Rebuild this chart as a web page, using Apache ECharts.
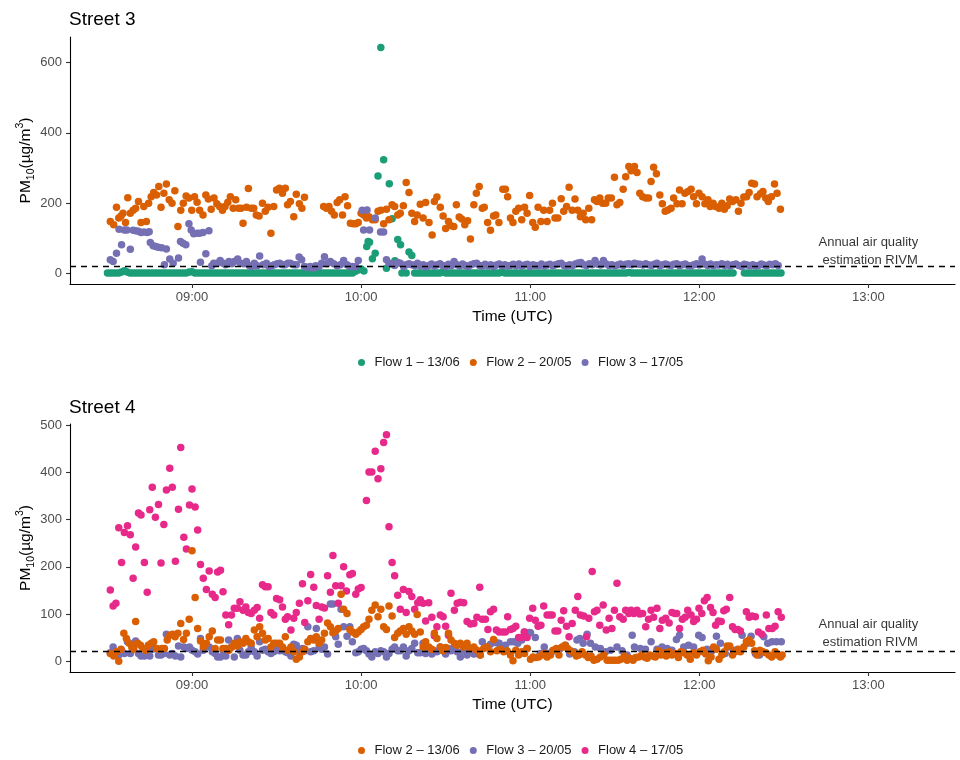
<!DOCTYPE html>
<html><head><meta charset="utf-8">
<script src="https://cdn.jsdelivr.net/npm/echarts@6/dist/echarts.min.js"></script>
<style>html,body{margin:0;padding:0;background:#fff}#c{width:960px;height:760px}</style>
</head><body><div id="c"></div>
<script>
// ---------- DATA (x = minutes after 08:30 UTC, y = PM10 in µg/m3) ----------
const xTickLabels = ['09:00','10:00','11:00','12:00','13:00'];
const xTickMinutes = [540,600,660,720,780]; // minutes since midnight
const yTicksTop = [0,200,400,600];
const yTicksBottom = [0,100,200,300,400,500];
const rivmAnnual = 21;
const annotationText = 'Annual air quality\n estimation RIVM';

// Street 3 — Flow 1 (13/06): per-minute values from minute 0
const s3f1A = [0,0,0,0,0,3,7,3,0,0, 0,0,0,0,0,0,0,0,0,0, 0,0,0,0,0,0,0,0,0,3, 4,0,0,0,0,0,0,0,0,0,
  0,0,0,0,0,0,0,0,0,0, 0,0,0,0,0,0,0,0,0,0, 0,0,0,0,0,0,0,0,0,0, 0,0,0,0,0,0,0,0,0,0,
  0,0,0,0,0,0,0,0,5,9, 12,6];
const s3f1Spike = [[92,76],[92.5,90],[93,88],[94,41],[95,57],[96,277],[97,643],[98,323],[99,14],[100,255],[101,155],
  [102,35],[103,96],[104,81],[104.5,0],[106,0],[107,60],[108,50]];
// per-minute from minute 109
const s3f1B = [0,0,0,0,0,0,0,0,0,0, 4,0,0,0,0,0,0,0,0,0, 0,0,0,0,0,0,0,0,0,0, 0,3,0,0,0,0,0,0,0,0,
  0,0,0,0,0,0,0,0,0,0, 0,0,0,0,0,0,0,0,0,0, 0,0,0,0,0,0,0,0,0,0, 0,0,0,0,0,0,2,0,0,0,
  0,0,0,0,0,0,0,0,0,0, 0,0,0,0,0,0,0,0,0,0, 0,0,0,0,0,0,0,0,0,0, 0,0,0,0];
// per-minute from minute 226
const s3f1C = [0,0,0,0,0,0,0,0,0,0,0,0,0,0];

// Street 3 — Flow 2 (20/05)
const s3f2 = [[1,147],[2.2,138],[3.2,188],[4,157],[4.8,163],[5.5,171],[6.4,144],[7.2,215],[8.1,171],[9.1,179],
  [10,185],[11,204],[11.9,144],[12.9,190],[13.8,147],[14.6,199],[15.5,218],[16.4,230],[17.4,223],[18.2,247],
  [19,188],[20,228],[20.9,254],[21.9,209],[22.9,199],[23.9,235],[25,133],[26,179],[26.9,199],[27.9,220],
  [28.9,214],[29.9,179],[30.9,218],[31.8,202],[32.7,179],[33.9,166],[34.9,223],[35.8,211],[36.8,182],[37.8,214],
  [38.8,198],[39.8,190],[40.8,179],[41.7,190],[42.7,202],[43.6,218],[44.6,185],[45.5,209],[46.5,185],[47.4,185],
  [48.1,142],[49.3,188],[50,241],[51,185],[51.9,185],[52.8,166],[53.8,163],[55,199],[56,176],[57,188],
  [58,114],[59,190],[60,237],[61,242],[62.1,228],[63.1,242],[63.9,195],[64.9,204],[66.1,161],[67,225],
  [68.1,198],[69,185],[69.9,216],[76.7,190],[77.7,185],[78.6,190],[79.5,176],[80.5,166],[81.5,201],[82.4,209],
  [83.4,166],[84.3,218],[85.2,192],[86.2,142],[87.2,141],[88.1,141],[89,144],[90,171],[90.9,166],[91.9,157],
  [92.8,161],[94,152],[95,152],[96,176],[97,179],[98,141],[99,182],[99.9,152],[101,195],[101.9,190],
  [103,166],[103.9,171],[105,192],[106,258],[107,230],[108,171],[109,147],[109.9,166],[111,196],[112,157],
  [112.9,201],[114.1,144],[115.2,109],[116,204],[116.9,217],[118.1,188],[119.1,163],[120,127],[121,147],[121.9,135],
  [122.9,133],[123.8,195],[124.8,160],[125.7,154],[126.8,138],[127.8,149],[128.8,97],[130,195],[130.9,228],[131.9,247],
  [133,185],[133.7,188],[134.9,144],[135.9,122],[137,163],[137.8,166],[138.9,144],[140.3,239],[141.2,239],[142,218],
  [143,157],[143.9,144],[144.9,176],[145.9,185],[147,152],[148,188],[148.9,171],[149.8,221],[150.9,144],[151.8,131],
  [152.8,188],[153.8,147],[154.8,179],[156,147],[156.9,179],[157.9,199],[158.8,157],[159.8,157],[161,212],[161.9,176],
  [162.9,190],[163.8,245],[164.9,179],[165.9,211],[166.9,179],[167.8,161],[168.8,171],[169.7,152],[170.8,185],[171.8,152],
  [172.8,209],[173.7,204],[174.7,214],[175.7,199],[176.8,199],[177.7,214],[178.8,214],[179.9,273],[180.8,195],[181.8,201],
  [183,239],[183.9,275],[185,304],[185.8,292],[187,304],[187.9,287],[188.9,228],[189.9,218],[191,214],[192,214],
  [192.9,261],[193.8,302],[194.8,283],[196,223],[196.9,198],[197.9,176],[198.9,180],[200,185],[200.9,214],[202.1,198],
  [203,237],[203.9,198],[204.9,228],[206,233],[207.1,239],[208,218],[209,198],[209.9,228],[211,218],[212,198],
  [213.1,209],[213.9,190],[214.9,199],[215.8,190],[217,185],[218,199],[218.9,182],[219.9,192],[220.8,211],[221.8,204],
  [223,209],[223.9,176],[224.8,199],[225.8,217],[226.8,218],[227.7,230],[228.6,256],[229.6,254],[230.5,218],[231.7,226],
  [232.6,233],[233.6,214],[234.5,204],[235.6,218],[236.7,254],[237.6,228],[238.8,182]];

// Street 3 — Flow 3 (17/05)
const s3f3A = [[1,38],[2,33],[3.2,57],[4.1,125],[5,81],[6,123],[6.9,123],[8.1,68],[9.1,122],[10,121],
  [11,119],[11.9,116],[12.9,117],[14.1,116],[14.8,118],[15.2,87],[16.2,78],[17.1,76],[18,74],[19.2,72],
  [20.2,24],[20.9,69],[22.1,40],[23.3,28],[25.2,43],[25.9,90],[26.8,85],[27.8,81],[28.9,141],[29.7,123],
  [30.6,112],[31.8,114],[32.7,114],[33,31],[33.9,116],[34.9,55],[36,121],[37,21],[37.7,28],[38.9,28],
  [40,36],[41,28],[41.9,24],[43.1,33],[44.1,27],[45,33],[46.2,40],[47.2,28],[48.3,27],[49.3,33],
  [50.3,22],[51.2,19],[52.1,28],[53.1,21],[54,49],[55.2,24],[56.4,28],[57.3,19],[58.3,21],[59.2,24],
  [60.2,27],[61.1,28],[62.1,24],[63,24],[64,28],[64.9,28],[66.1,24],[67,24],[68,46],[68.9,38],
  [69.9,19],[70.8,17],[72,19],[73,14],[73.9,21],[75.1,19],[76,28],[77,47],[77.9,27],[79.1,33],
  [80.3,27],[81.5,21],[82.6,24],[83.8,36],[85,24],[86,19],[86.9,19],[88.1,19],[89,36],[90.4,179],
  [90.9,123],[92.1,180],[93,123],[95,157],[96.9,117],[98,117],[99,38],[99.9,28],[101,27],[101.9,22],
  [103,30],[103.9,28],[105.1,19],[106,24],[107,27],[108,24]];
// per-minute from minute 109
const s3f3B = [22,28,20,24,18,22,26,20,24,27,22,19, 25,21,33,24,20,26,22,19,24,27,28,22,
  20,25,21,24,19,23,26,21,24,20,22,25, 21,26,20,23,25,19,24,22,21,26,20,23,
  25,21,24,27,28,22,20,24,21,26,29,30, 24,22,27,24,36,25,23,36,26,22,24,21,
  23,26,22,25,27,24,28,26,25,23,27,24, 22,25,28,21,24,26,23,22,25,27,21,24,
  26,22,20,24,27,23,40,25,22,26,21,24, 23,27,22,25,20,24,26,22,19,25,23,21,
  24,20,22,26,23,21,25,24,27,22];

// Street 4 — Flow 2 (13/06)
const s4f2 = [[1,16],[2.2,11],[3.2,20],[4,0],[4.8,25],[5.8,59],[6.7,48],[7.7,38],[8.6,30],[9.3,25],
  [10,84],[10.7,38],[11.7,34],[12.6,27],[13.6,23],[14.5,34],[15.5,38],[16.4,41],[17.4,27],[18.3,25],
  [19.3,27],[20.2,27],[21.2,45],[22.1,55],[23.1,57],[24,52],[25,59],[26,80],[27,46],[28,59],
  [29,89],[30,234],[31.1,135],[32,69],[33,43],[34,30],[35.1,38],[36.1,52],[37.2,64],[38.2,27],
  [39.1,45],[40.1,45],[41,27],[42,27],[43.1,23],[44.1,30],[45,38],[46.1,32],[47,41],[48.1,38],
  [49.1,48],[50,41],[51,38],[52.1,66],[53.1,52],[54,73],[55,59],[56,45],[57,48],[58,30],
  [59,38],[60,38],[61.1,38],[62.1,30],[63.1,52],[63.9,23],[65.1,30],[66.1,20],[67,4],[68.1,9],
  [69.2,20],[70,25],[71.1,41],[72.1,48],[73.2,45],[74.1,52],[75.1,38],[76,45],[77,59],[78.1,81],
  [79.1,73],[80,60],[81,64],[81.9,69],[82.9,142],[83.8,110],[85,101],[86,67],[86.9,62],[88.1,57],
  [89,62],[90,67],[90.9,73],[91.9,76],[92.8,89],[93.8,108],[95,119],[96,94],[97,110],[98,73],
  [99,67],[99.9,117],[101,96],[101.9,50],[103,59],[103.9,64],[105,69],[106,57],[107,73],[108,64],
  [109,57],[109.9,99],[111,62],[112,30],[112.9,41],[114,30],[115.1,25],[116,59],[116.9,48],[118.1,30],
  [119.1,22],[120,29],[121,59],[121.9,45],[123.1,38],[124.1,34],[125.2,38],[126.4,30],[127.6,38],[128.8,27],
  [130,30],[131.1,23],[132.3,13],[133.5,27],[134.7,30],[135.9,20],[137,46],[138.2,22],[139.4,25],[140.6,20],
  [141.8,22],[143,13],[143.9,1],[144.9,23],[145.9,13],[147,20],[148,16],[148.9,27],[150.1,4],[151,9],
  [152,8],[153,9],[154.1,13],[155,16],[156,9],[157.2,13],[158.1,23],[159.3,27],[160.2,13],[161.3,30],
  [162.4,34],[163.3,27],[164.3,22],[165.4,18],[166.4,11],[167.3,13],[168.4,20],[169.6,13],[170.6,8],[171.6,11],
  [172.6,2],[173.7,4],[174.9,9],[176.1,13],[177.3,2],[178.2,2],[179.2,2],[180.2,2],[181.3,2],[182.2,4],
  [183.4,11],[184.4,2],[185.3,6],[186.5,2],[187.4,8],[188.5,9],[189.6,13],[190.5,9],[191.5,6],[192.4,13],
  [193.4,11],[194.4,9],[195.5,22],[196.4,13],[197.4,18],[198.3,11],[199.3,20],[200.3,13],[201.4,16],[202.6,8],
  [203.5,20],[204.5,18],[205.7,13],[206.8,4],[208,18],[209,13],[210.2,20],[211.3,23],[212.3,15],[213.2,1],
  [214.2,9],[215.1,30],[216.1,25],[217,4],[218,13],[218.9,20],[219.9,32],[220.8,32],[221.8,13],[222.7,20],
  [223.7,25],[224.6,20],[225.8,30],[226.7,41],[227.7,45],[228.6,38],[229.6,22],[230.5,13],[231.5,23],[232.6,20],
  [233.6,18],[234.7,13],[235.7,9],[236.9,20],[237.8,13],[238.8,9],[239.4,13]];

// Street 4 — Flow 3 (20/05)
const s4f3 = [[1,18],[2,30],[3,13],[4,13],[5,23],[6,16],[7.1,41],[8.1,16],[9.1,30],[10,43],
  [11,16],[11.9,11],[13.1,11],[14.1,27],[15,11],[15.9,25],[17,27],[18.1,13],[19,13],[20,16],
  [20.9,57],[22.1,13],[23,16],[24.1,11],[25.2,32],[26,9],[27.1,30],[28,27],[29.1,30],[30,23],
  [31.1,20],[32,15],[33,48],[34,23],[35.1,34],[36.1,30],[37.2,20],[38.2,16],[39.1,9],[40.1,9],
  [41,22],[42,11],[43,45],[44,30],[45,9],[46.1,48],[47,23],[48.1,13],[49.1,13],[50,20],
  [51,30],[52.1,20],[53.1,11],[54,41],[55,23],[56,25],[57,20],[58,16],[59,20],[60,27],
  [61.1,22],[62.1,27],[63.1,20],[63.9,18],[65.1,11],[66.1,36],[67,34],[68.1,22],[69.2,27],[70,22],
  [71.1,73],[72.1,20],[73.2,22],[74.1,69],[75.1,30],[76,25],[77,30],[78.1,15],[79.1,121],[80,121],
  [81,52],[81.9,36],[82.9,110],[83.8,73],[85,53],[86,73],[86.9,41],[88.1,18],[89,20],[90,25],
  [90.9,27],[91.9,22],[92.8,15],[93.8,9],[95,20],[96,16],[97,22],[98,20],[99,9],[99.9,16],
  [101,25],[101.9,30],[103,22],[103.9,22],[105,30],[106,11],[107,22],[108,27],[109,38],[110.1,18],
  [111,18],[112,38],[112.9,16],[114,22],[115.1,15],[116,22],[116.9,20],[118.1,30],[119.1,22],[120,15],
  [121,27],[121.9,22],[123.1,30],[124.1,20],[125.2,9],[126.4,22],[127.6,13],[128.8,23],[130,15],[131.1,16],
  [132.3,13],[133,41],[134,30],[135.9,36],[138,39],[139,38],[139.4,30],[141.2,34],[143,41],[144.2,41],
  [145.6,38],[147,45],[148,62],[148.9,27],[149.7,61],[150.1,60],[151.8,50],[153.6,16],[155,30],[156,16],
  [157.7,20],[160.7,27],[162.5,34],[164,15],[165.7,20],[166.6,45],[167.6,48],[168.8,38],[170.2,57],[171.4,38],
  [173.1,30],[174.9,27],[176.7,20],[178.5,23],[180.8,30],[182.6,22],[184.4,13],[186.2,55],[187,30],[189.1,27],
  [190.9,25],[192.9,41],[195,25],[196.8,30],[198.6,27],[200.3,23],[201.9,46],[203,55],[204.5,30],[206.2,34],
  [208,30],[209.8,55],[211,50],[212.8,25],[214.5,22],[216.1,53],[217.5,38],[219.2,16],[220.4,30],[222.2,23],
  [224,22],[225.2,55],[227,38],[228.4,53],[229.9,16],[231.4,13],[232.9,52],[234.3,38],[235.8,41],[237.4,41],[239.1,41]];

// Street 4 — Flow 4 (17/05)
const s4f4 = [[1,151],[2,117],[3,123],[4,283],[5,209],[6,273],[7.1,287],[8.1,268],[9.1,176],[10,242],
  [11,314],[11.9,310],[13.1,209],[14.1,146],[15,321],[15.9,369],[17,305],[18.1,332],[19,208],[20,290],
  [20.9,363],[22.1,409],[23,369],[24.1,212],[25.2,322],[26,453],[27.1,263],[28,238],[29.1,331],[30,365],
  [31.1,327],[32,278],[33,205],[34,176],[35.1,152],[36.1,191],[37.2,142],[38.2,135],[39.1,189],[40.1,193],
  [41,147],[42,98],[43,77],[44,98],[45,112],[46.1,112],[47,126],[48.1,108],[49.1,115],[50,103],
  [51,101],[52.1,108],[53.1,114],[54,91],[55,162],[56,158],[57,158],[58,103],[59,98],[60,133],
  [61.1,130],[62.1,115],[63.1,89],[63.9,94],[65.1,66],[66.1,91],[67,103],[68.1,123],[69.2,164],[70,82],
  [71.1,128],[72.1,184],[73.2,157],[74.1,118],[75.1,89],[76,115],[77,113],[78.1,181],[79.1,146],[80,224],
  [81,160],[81.9,123],[82.9,160],[83.8,200],[84.8,149],[86,183],[86.9,186],[88.1,142],[89,153],[90,156],
  [91.9,341],[92.8,401],[93.8,401],[95,445],[96,387],[97,408],[98,464],[99,480],[99.9,285],[101,209],
  [101.9,181],[103,140],[103.9,110],[105,152],[106,103],[107,148],[108,137],[109,110],[110.1,124],[111,130],
  [112,123],[112.9,85],[114,124],[115.1,93],[116,54],[116.9,73],[118.1,98],[119.1,94],[120,74],[121,55],
  [121.9,144],[123.1,108],[124.1,123],[125.2,125],[126.4,124],[127.6,84],[128.8,79],[130,80],[131.1,93],[132.1,157],
  [133,89],[134.1,89],[135,67],[135.9,105],[137,110],[138,66],[139,62],[140.2,62],[141.2,62],[142,94],
  [143,67],[143.9,69],[144.9,74],[145.9,50],[147,50],[147.9,62],[148.9,50],[149.8,91],[150.9,112],[151.8,87],
  [152.8,74],[153.8,76],[154.8,117],[156,98],[156.9,98],[157.8,98],[158.8,64],[159.8,64],[161,87],[161.9,107],
  [162.9,74],[163.8,52],[164.9,80],[166,108],[166.9,137],[167.8,98],[169,96],[170,52],[170.8,91],[172,190],
  [172.8,105],[173.7,108],[174.7,76],[175.9,119],[177,66],[178,91],[179,69],[179.9,108],[180.8,165],[181.8,94],
  [183,89],[183.9,108],[185,101],[185.8,108],[186.8,101],[187.9,108],[188.9,100],[189.9,101],[191,73],[192,89],
  [192.9,108],[193.8,93],[195,112],[196,69],[196.9,87],[198.1,91],[199.3,81],[200.3,103],[201.3,101],[202,101],
  [203,69],[204,89],[205,93],[205.9,108],[207.1,98],[208,84],[209,89],[209.9,112],[210.9,101],[211.8,128],
  [212.8,135],[214,114],[214.9,103],[215.8,76],[216.8,85],[217.8,84],[218.7,107],[219.6,110],[220.8,135],[221.8,73],
  [222.7,67],[223.7,67],[224.6,64],[226.7,105],[227.7,93],[228.7,96],[229.9,94],[231,62],[232.2,57],[233.8,98],
  [234.7,69],[235.9,69],[236.9,74],[238,105],[239.1,93]];

// ---------- BUILD ----------
const T0 = 510; // 08:30 in minutes since midnight
const pairs = arr => arr.map(p => [T0 + p[0], p[1]]);
const perMinute = (start, vals) => vals.map((v, i) => [T0 + start + i, v]);

const FONT = '"Liberation Sans", Arial, Helvetica, sans-serif';
const C1 = '#1B9E77', C2 = '#D95F02', C3 = '#7570B3', C4 = '#E7298A';
const XMIN = 496.7, XMAX = 810.75;
const fmt = v => { const h = Math.floor(v/60), m = Math.round(v - h*60); return String(h).padStart(2,'0') + ':' + String(m).padStart(2,'0'); };

function xAxis(gi){
  return {type:'value', gridIndex:gi, min:XMIN, max:XMAX, splitLine:{show:false},
    axisLine:{onZero:false, lineStyle:{color:'#000', width:1.1}},
    axisTick:{customValues:xTickMinutes, length:4, lineStyle:{color:'#333', width:1.1}},
    axisLabel:{customValues:xTickMinutes, formatter:v => xTickLabels[xTickMinutes.indexOf(v)] || fmt(v), color:'#4D4D4D', fontSize:13, fontFamily:FONT, margin:7},
    name:'Time (UTC)', nameLocation:'middle', nameGap:25, nameMoveOverlap:false,
    nameTextStyle:{color:'#000', fontSize:15.5, fontFamily:FONT}};
}
function yAxis(gi, min, max, ticks){
  return {type:'value', gridIndex:gi, min:min, max:max, splitLine:{show:false},
    axisLine:{show:true, onZero:false, lineStyle:{color:'#000', width:1.1}},
    axisTick:{show:true, customValues:ticks, length:4, lineStyle:{color:'#333', width:1.1}},
    axisLabel:{customValues:ticks, color:'#4D4D4D', fontSize:13, fontFamily:FONT, margin:8},
    name:'{a|PM}{b|10}{a|(µg/m}{c|3}{a|)}', nameLocation:'middle', nameGap:33, nameRotate:90, nameMoveOverlap:false,
    nameTextStyle:{color:'#000', fontFamily:FONT, rich:{
      a:{fontSize:15.5, fontFamily:FONT, color:'#000', lineHeight:22},
      b:{fontSize:10.5, fontFamily:FONT, color:'#000', lineHeight:11, verticalAlign:'bottom'},
      c:{fontSize:10.5, fontFamily:FONT, color:'#000', lineHeight:11, verticalAlign:'top'}}}};
}
const dot = (name, color, data, xi, z) => ({type:'scatter', name, xAxisIndex:xi, yAxisIndex:xi, data,
  symbol:'circle', symbolSize:7.5, itemStyle:{color, opacity:1}, z, silent:true, animation:false});
const hline = xi => ({type:'line', xAxisIndex:xi, yAxisIndex:xi, data:[], z:10, silent:true,
  markLine:{silent:true, symbol:['none','none'], animation:false, label:{show:false},
    lineStyle:{color:'#000', type:[6,5], width:1.3}, data:[{yAxis:rivmAnnual}]}});
const note = (xi, y) => ({type:'scatter', xAxisIndex:xi, yAxisIndex:xi, data:[[780, y]], symbolSize:0, z:11, silent:true,
  label:{show:true, position:'inside', formatter:annotationText, color:'#000', fontSize:13, fontFamily:FONT, lineHeight:17.6, align:'center'}});

const legendCommon = {orient:'horizontal', icon:'circle', itemWidth:16, itemHeight:7, itemGap:10, left:353,
  textStyle:{fontSize:13, color:'#1A1A1A', fontFamily:FONT}, selectedMode:false};

const s3f1 = perMinute(0, s3f1A).concat(pairs(s3f1Spike), perMinute(109, s3f1B), perMinute(226, s3f1C));
const s3f3 = pairs(s3f3A).concat(perMinute(109, s3f3B));

const option = {
  backgroundColor:'#fff', animation:false,
  textStyle:{fontFamily:FONT},
  title:[
    {text:'Street 3', left:69, top:10, padding:0, textStyle:{fontSize:19, fontWeight:'normal', color:'#000', fontFamily:FONT}},
    {text:'Street 4', left:69, top:398, padding:0, textStyle:{fontSize:19, fontWeight:'normal', color:'#000', fontFamily:FONT}}
  ],
  legend:[
    Object.assign({}, legendCommon, {top:351, data:['Flow 1 – 13/06','Flow 2 – 20/05','Flow 3 – 17/05']}),
    Object.assign({}, legendCommon, {top:739, data:['Flow 2 – 13/06','Flow 3 – 20/05','Flow 4 – 17/05']})
  ],
  grid:[
    {left:70, right:5, top:37, height:247, containLabel:false},
    {left:70, right:5, top:424, height:248, containLabel:false}
  ],
  xAxis:[xAxis(0), xAxis(1)],
  yAxis:[yAxis(0, -31, 673, yTicksTop), yAxis(1, -23, 503, yTicksBottom)],
  series:[
    dot('Flow 1 – 13/06', C1, s3f1, 0, 2),
    dot('Flow 2 – 20/05', C2, pairs(s3f2), 0, 3),
    dot('Flow 3 – 17/05', C3, s3f3, 0, 4),
    hline(0), note(0, 61),
    dot('Flow 3 – 20/05', C3, pairs(s4f3), 1, 2),
    dot('Flow 4 – 17/05', C4, pairs(s4f4), 1, 3),
    dot('Flow 2 – 13/06', C2, pairs(s4f2), 1, 4),
    hline(1), note(1, 59)
  ]
};
const chart = echarts.init(document.getElementById('c'), null, {renderer:'canvas'});
chart.setOption(option);
</script></body></html>
